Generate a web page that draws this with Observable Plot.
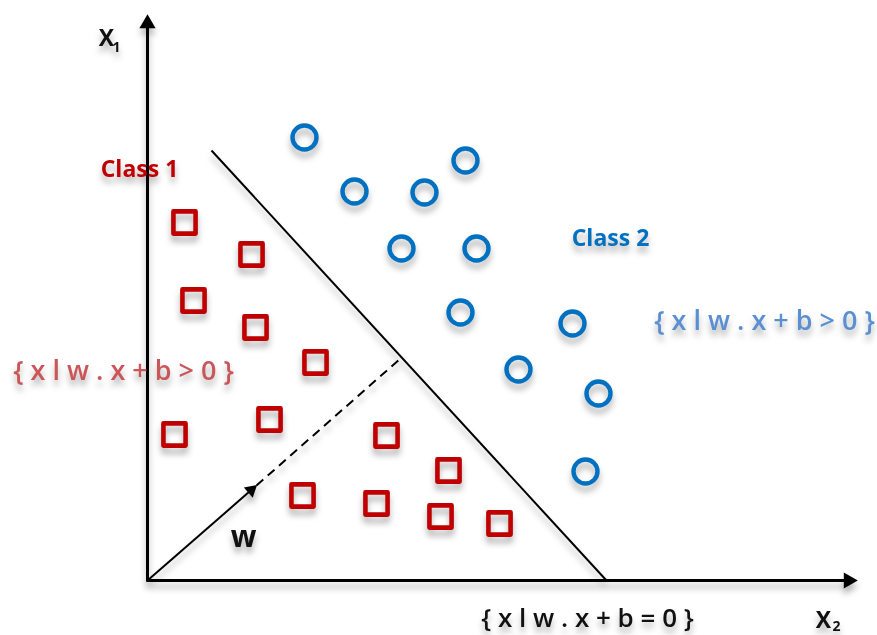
<!DOCTYPE html>
<html>
<head>
<meta charset="utf-8">
<script src="https://cdn.jsdelivr.net/npm/d3@7"></script>
<script src="https://cdn.jsdelivr.net/npm/@observablehq/plot@0.6"></script>
<style>
  html, body { margin: 0; padding: 0; background: #ffffff; }
  #chart svg { background: transparent !important; filter: drop-shadow(0px 6px 3px rgba(0,0,0,0.3)); }
</style>
</head>
<body>
<div id="chart"></div>
<script>
// Data units: offsets from the axes origin (x to the right, y upward)
const class1X = [37, 104, 46, 108, 168, 27, 122, 239, 301, 155, 229, 293, 352];
const class1Y = [358, 326, 280, 253, 218, 146, 161, 145, 110, 85, 77, 64, 57];
const class2X = [157, 318, 207, 277, 254, 329, 313, 425, 371, 451, 438];
const class2Y = [443, 420, 389, 388, 332, 332, 268, 257, 211, 187, 109];

// Decision boundary w.x + b = 0 (endpoints)
const boundaryX = [64, 459];
const boundaryY = [430, 0];
// Weight vector w and its dashed extension to the boundary
const wVecX = [0, 109];
const wVecY = [0, 95];
const wExtX = [109, 253];
const wExtY = [95, 222];
// Axes
const axisXEnd = 701;
const axisYEnd = 557;

// Annotations
const labelText = ["Class 1", "Class 2", "{ x l w . x + b > 0 }", "{ x l w . x + b > 0 }", "{ x l w . x + b = 0 }", "w", "X", "X"];
const labelX = [-8, 463, 617, -24, 440, 96, -41, 676];
const labelY = [411, 342, 259, 209, -38, 43, 542, -40];
const subText = ["1", "2"];
const subX = [-31, 689];
const subY = [533, -46];

const red = "#c00000", blue = "#0070c0";

const squares = class1X.map((x, i) => ({x, y: class1Y[i]}));
const circles = class2X.map((x, i) => ({x, y: class2Y[i]}));
const labels = labelText.map((t, i) => ({t, x: labelX[i], y: labelY[i], i}));
const subs = subText.map((t, i) => ({t, x: subX[i], y: subY[i]}));

const styleOf = [
  {fill: red, size: 23, weight: "bold"},
  {fill: blue, size: 23, weight: "bold"},
  {fill: "#5a8fd2", size: 27, weight: "600"},
  {fill: "#c9575a", size: 27, weight: "600"},
  {fill: "#111", size: 26, weight: "600"},
  {fill: "#111", size: 30, weight: "bold"},
  {fill: "#111", size: 23, weight: "bold"},
  {fill: "#111", size: 23, weight: "bold"}
];

const textMarks = labels.map(d => Plot.text([d], {
  x: "x", y: "y", text: "t",
  fill: styleOf[d.i].fill, fontSize: styleOf[d.i].size, fontWeight: styleOf[d.i].weight,
  fontFamily: "Open Sans"
}));

// arrowhead of w: filled triangle placed just behind the tip, pointing along w
const wAngle = Math.atan2(wVecX[1] - wVecX[0], wVecY[1] - wVecY[0]) * 180 / Math.PI;
const wLen = Math.hypot(wVecX[1] - wVecX[0], wVecY[1] - wVecY[0]);
const back = 7;
const wHead = [{
  x: wVecX[1] - back * (wVecX[1] - wVecX[0]) / wLen,
  y: wVecY[1] - back * (wVecY[1] - wVecY[0]) / wLen
}];

const chart = Plot.plot({
  width: 877,
  height: 635,
  margin: 0,
  x: {domain: [-147, 730], range: [0, 877], axis: null},
  y: {domain: [-55, 580], range: [635, 0], axis: null},
  marks: [
    // axes
    Plot.link([{x1: -1, y1: 0, x2: axisXEnd - 4, y2: 0}, {x1: 0, y1: -1, x2: 0, y2: axisYEnd - 4}],
      {x1: "x1", y1: "y1", x2: "x2", y2: "y2", stroke: "#000", strokeWidth: 3}),
    Plot.dot([{x: 0, y: axisYEnd}], {x: "x", y: "y", symbol: "triangle", r: 6, fill: "#000", stroke: "none"}),
    Plot.dot([{x: axisXEnd, y: 0}], {x: "x", y: "y", symbol: "triangle", r: 6, fill: "#000", stroke: "none", rotate: 90}),
    // decision boundary
    Plot.link([{x1: boundaryX[0], y1: boundaryY[0], x2: boundaryX[1], y2: boundaryY[1]}],
      {x1: "x1", y1: "y1", x2: "x2", y2: "y2", stroke: "#000", strokeWidth: 2}),
    // w vector
    Plot.link([{x1: wVecX[0], y1: wVecY[0], x2: wHead[0].x, y2: wHead[0].y}],
      {x1: "x1", y1: "y1", x2: "x2", y2: "y2", stroke: "#000", strokeWidth: 2}),
    Plot.dot(wHead, {x: "x", y: "y", symbol: "triangle", r: 5, fill: "#000", stroke: "none", rotate: wAngle}),
    Plot.link([{x1: wExtX[0], y1: wExtY[0], x2: wExtX[1], y2: wExtY[1]}],
      {x1: "x1", y1: "y1", x2: "x2", y2: "y2", stroke: "#000", strokeWidth: 2, strokeDasharray: "9,6"}),
    // class points
    Plot.dot(squares, {x: "x", y: "y", symbol: "square", r: 12.5, stroke: red, strokeWidth: 4.6, fill: "none", strokeLinejoin: "round"}),
    Plot.dot(circles, {x: "x", y: "y", symbol: "circle", r: 12, stroke: blue, strokeWidth: 4.4, fill: "none"}),
    ...textMarks,
    Plot.text(subs, {x: "x", y: "y", text: "t", fill: "#111", fontSize: 14, fontWeight: "bold", fontFamily: "Open Sans"})
  ]
});
document.getElementById("chart").appendChild(chart);
</script>
</body>
</html>
